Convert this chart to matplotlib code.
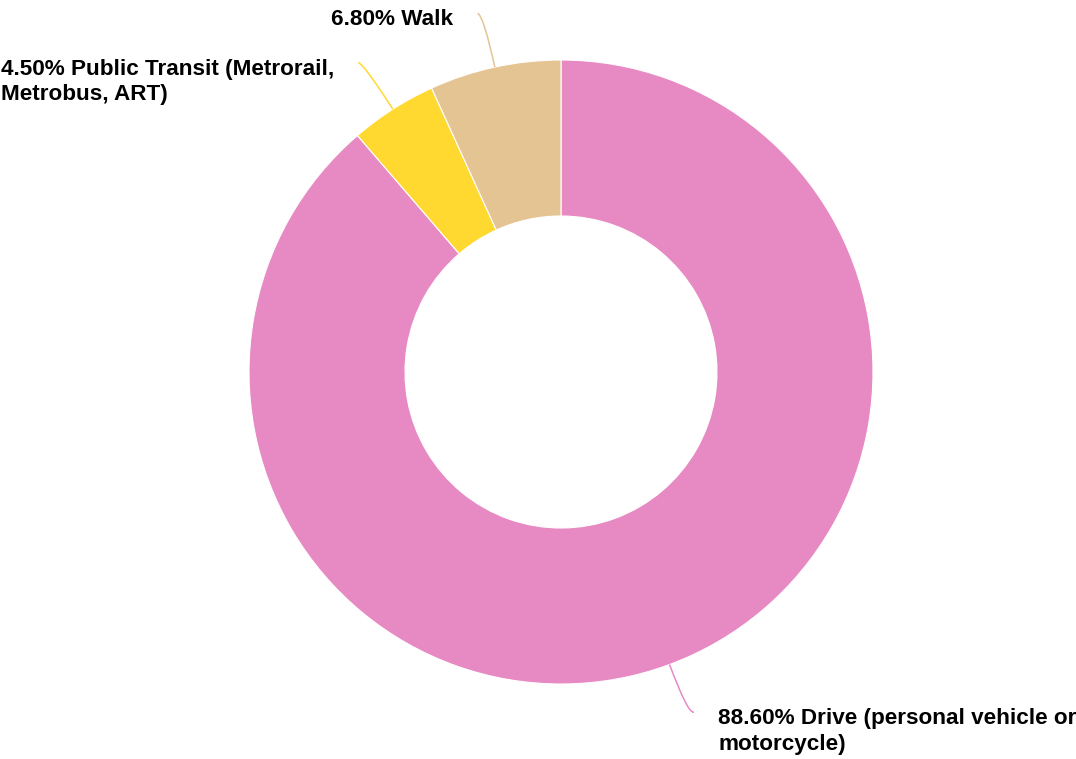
import numpy as np
import matplotlib
matplotlib.use("Agg")
import matplotlib.pyplot as plt
from matplotlib.path import Path
from matplotlib.patches import PathPatch

# commute mode share
modes = ["Drive (personal vehicle or\nmotorcycle)",
         "Public Transit (Metrorail,\nMetrobus, ART)",
         "Walk"]
shares = [88.6, 4.5, 6.8]
colors = ["#E78AC3", "#FFD92F", "#E5C494"]

plt.rcParams['font.family'] = ['Liberation Sans', 'DejaVu Sans']

W, H = 1076, 759
fig = plt.figure(figsize=(W / 100, H / 100), dpi=100)
ax = fig.add_axes([0, 0, 1, 1])

cx, cy = 561, H - 372
R = 312
wedges, _ = ax.pie(shares, colors=colors, startangle=90, counterclock=False,
                   radius=R, center=(cx, cy),
                   wedgeprops=dict(width=R / 2, edgecolor='white', linewidth=0.8))

# pie() resets the limits, so set them afterwards
ax.set_xlim(0, W)
ax.set_ylim(0, H)
ax.set_aspect('equal')
ax.axis('off')

for w, lab, val, col in zip(wedges, modes, shares, colors):
    ang = np.deg2rad((w.theta1 + w.theta2) / 2)
    d = np.array([np.cos(ang), np.sin(ang)])
    p0 = np.array([cx, cy]) + R * d
    p1 = np.array([cx, cy]) + 1.17 * R * d
    side = 1 if d[0] > 0 else -1
    p2 = p1 + np.array([side * 6, 2])
    path = Path([p0, p1, p2], [Path.MOVETO, Path.CURVE3, Path.CURVE3])
    ax.add_patch(PathPatch(path, fill=False, edgecolor=col, linewidth=1.1))
    ax.text(p2[0] + side * 24, p2[1] + 4, f"{val:.2f}% {lab}",
            ha='left' if side > 0 else 'right', va='top', multialignment='left',
            fontsize=16.2, fontweight='bold', color='black', linespacing=1.3)

fig.savefig("out.png", dpi=100, facecolor='white')
